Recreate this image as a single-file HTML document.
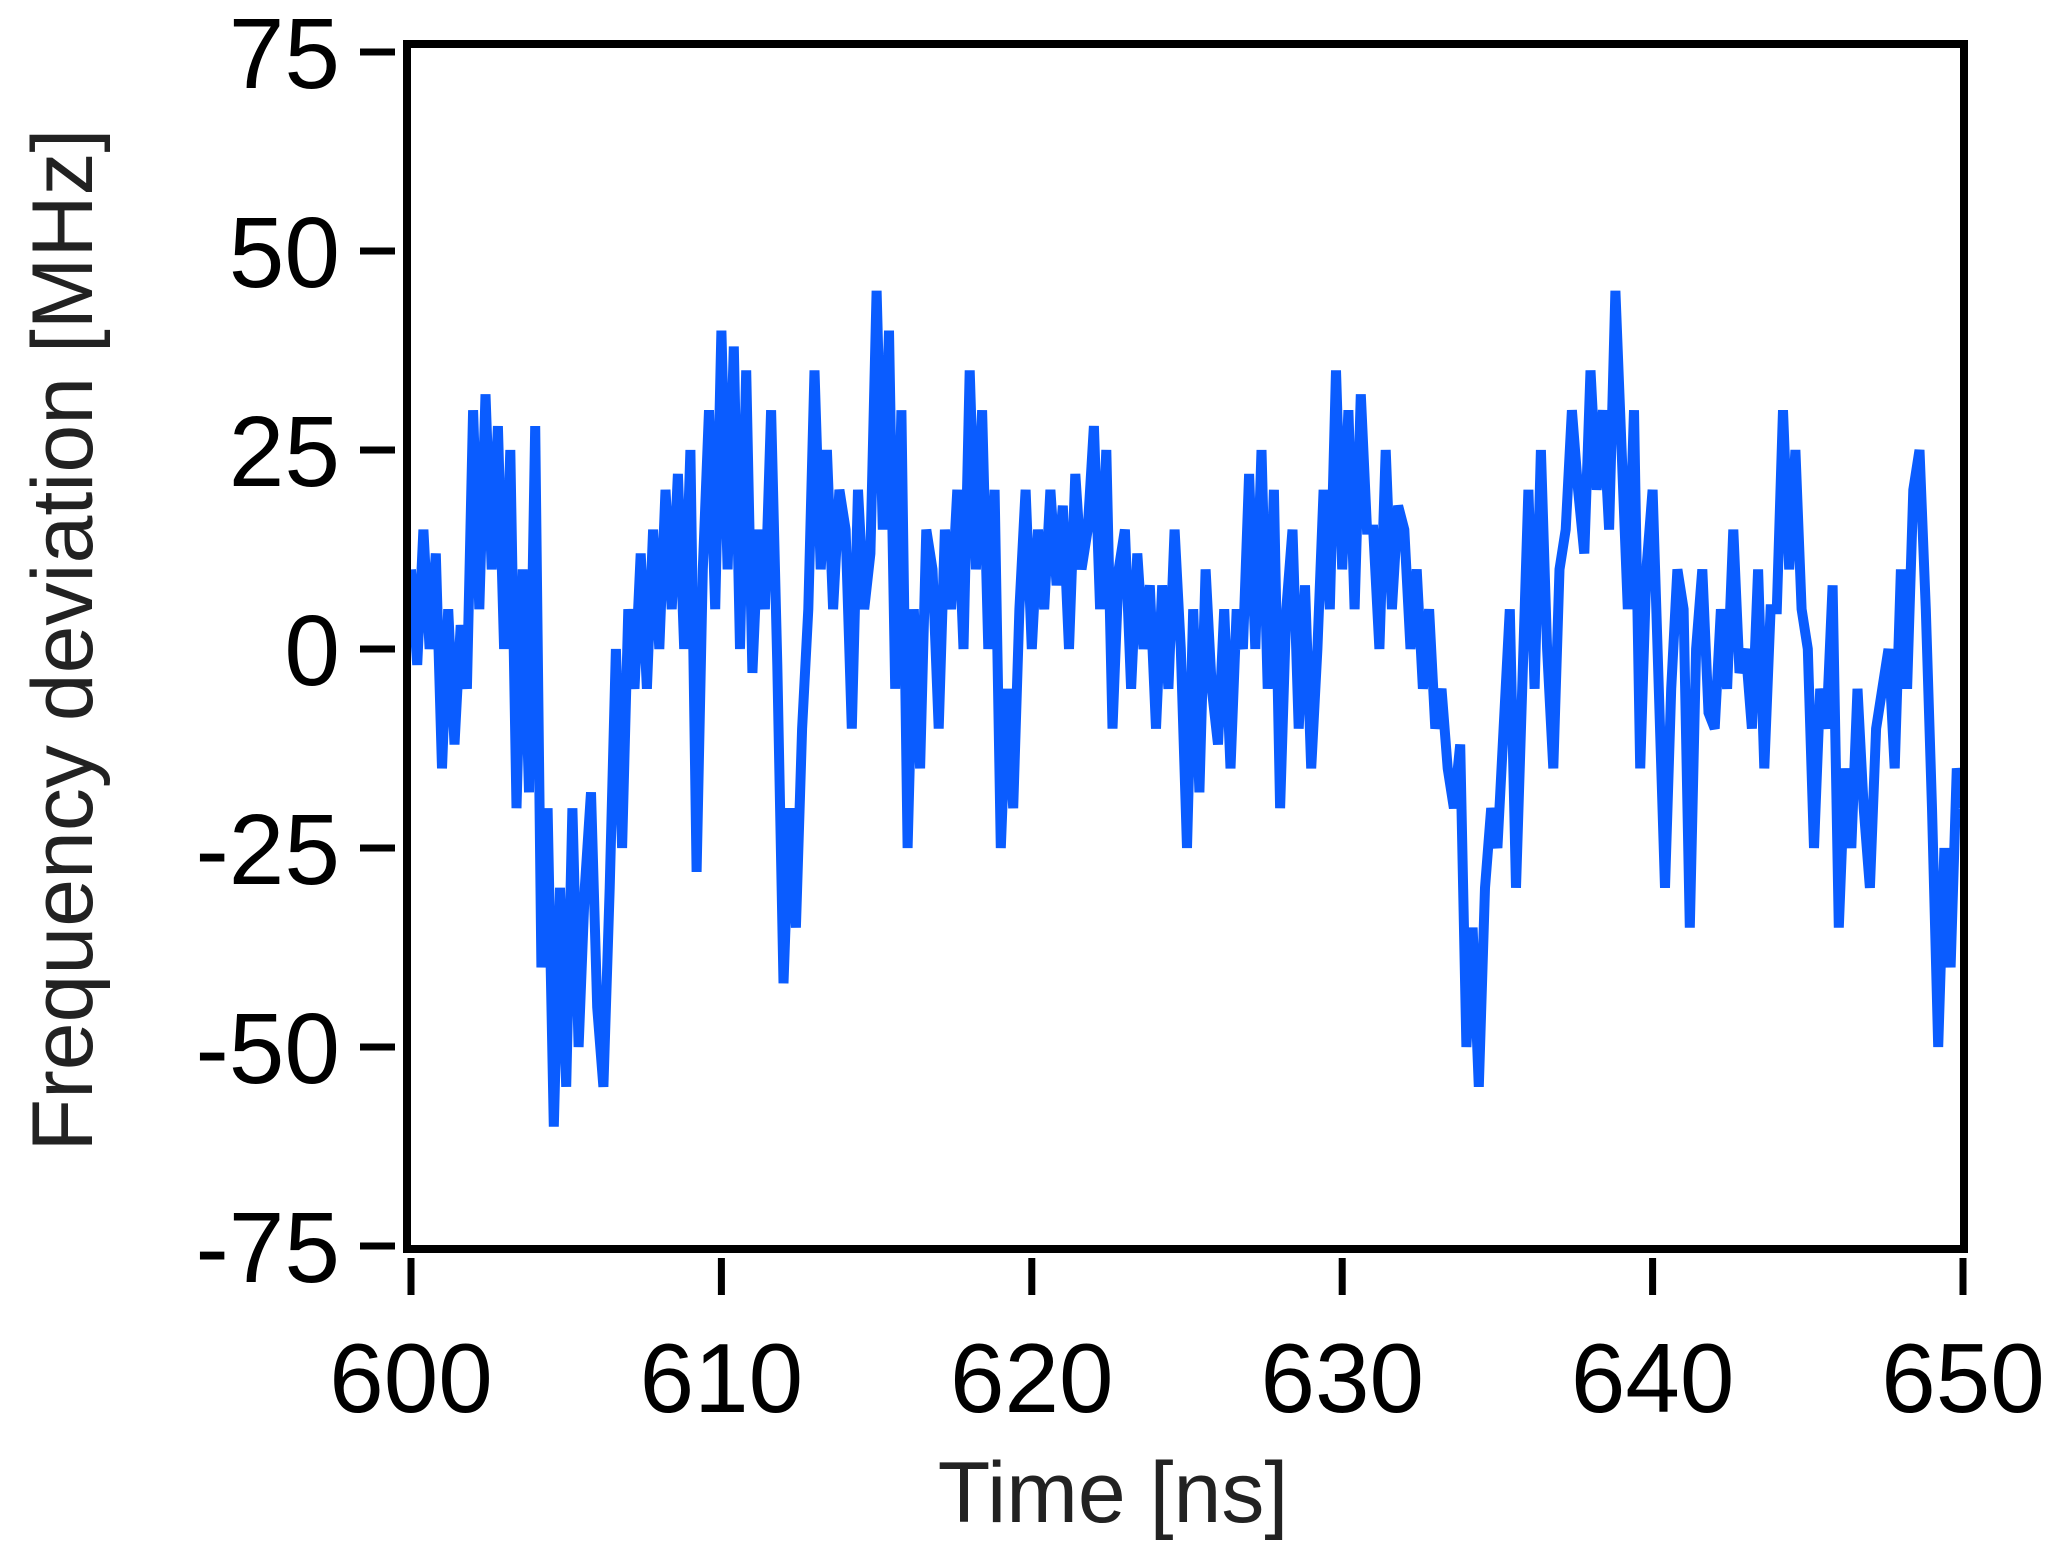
<!DOCTYPE html>
<html><head><meta charset="utf-8"><style>
html,body{margin:0;padding:0;background:#fff;}
svg{display:block;font-family:"Liberation Sans",sans-serif;}
</style></head><body>
<svg id="chart" width="2054" height="1558" viewBox="0 0 2054 1558">
<g id="axes"></g>
<g id="series"></g>
<rect x="407" y="44" width="1557" height="1205" fill="none" stroke="#000" stroke-width="8"/>
<text x="1113" y="1522" font-size="86" text-anchor="middle" fill="#222">Time [ns]</text>
<text transform="translate(92,640) rotate(-90)" font-size="86" text-anchor="middle" fill="#222">Frequency deviation [MHz]</text>
</svg>
<script>
const xTicks = [600, 610, 620, 630, 640, 650];
const yTicks = [75, 50, 25, 0, -25, -50, -75];
const yTickLabels = ["75", "50", "25", "0", "-25", "-50", "-75"];
const tStart = 600;
const tStep = 0.2;
const values = [
10,-2,15,0,12, -15,5,-12,3,-5, 30,5,32,10,28, 0,25,-20,10,-18,
28,-40,-20,-60,-30, -55,-20,-50,-30,-18, -45,-55,-30,0,-25, 5,-5,12,-5,15,
0,20,5,22,0, 25,-28,10,30,5, 40,10,38,0,35, -3,15,5,30,-2,
-42,-20,-35,-10,5, 35,10,25,5,20, 15,-10,20,5,12, 45,15,40,-5,30,
-25,5,-15,15,10, -10,15,5,20,0, 35,10,30,0,20, -25,-5,-20,5,20,
0,15,5,20,8, 18,0,22,10,15, 28,5,25,-10,10, 15,-5,12,0,8,
-10,8,-5,15,0, -25,5,-18,10,-5, -12,5,-15,5,0, 22,0,25,-5,20,
-20,5,15,-10,8, -15,0,20,5,35, 10,30,5,32,15, 15,0,25,5,18,
15,0,10,-5,5, -10,-5,-15,-20,-12, -50,-35,-55,-30,-20, -25,-10,5,-30,-5,
20,-5,25,0,-15, 10,15,30,20,12, 35,20,30,15,45, 25,5,30,-15,10,
20,-5,-30,-5,10, 5,-35,0,10,-8, -10,5,-5,15,-3, 0,-10,10,-15,5,
5,30,10,25,5, 0,-25,-5,-10,8, -35,-15,-25,-5,-20, -30,-10,-5,0,-15,
10,-5,20,25,5, -20,-50,-25,-40,-15, -20
];
const NS="http://www.w3.org/2000/svg";
const X0=411, X1=1963, Y75=52, Y_75=1246;
function xScale(t){return X0+(t-600)/50*(X1-X0);}
function yScale(v){return Y75+(75-v)/150*(Y_75-Y75);}
const axes=document.getElementById('axes');
xTicks.forEach((t,i)=>{
  const l=document.createElementNS(NS,'line');
  l.setAttribute('x1',xScale(t));l.setAttribute('x2',xScale(t));
  l.setAttribute('y1',1258);l.setAttribute('y2',1295);
  l.setAttribute('stroke','#000');l.setAttribute('stroke-width','7');
  
  
  axes.appendChild(l);
  const tx=document.createElementNS(NS,'text');
  tx.setAttribute('x',xScale(t));tx.setAttribute('y',1412);
  tx.setAttribute('font-size','98');tx.setAttribute('text-anchor','middle');
  tx.textContent=String(t);
  
  
  axes.appendChild(tx);
});
yTicks.forEach((v,i)=>{
  const l=document.createElementNS(NS,'line');
  l.setAttribute('x1',360);l.setAttribute('x2',395);
  l.setAttribute('y1',yScale(v));l.setAttribute('y2',yScale(v));
  l.setAttribute('stroke','#000');l.setAttribute('stroke-width','7');
  
  
  axes.appendChild(l);
  const tx=document.createElementNS(NS,'text');
  tx.setAttribute('x',340);tx.setAttribute('y',yScale(v)+36);
  tx.setAttribute('font-size','100');tx.setAttribute('text-anchor','end');
  tx.textContent=yTickLabels[i];
  
  
  axes.appendChild(tx);
});
const pts=values.map((v,i)=>xScale(tStart+i*tStep).toFixed(1)+','+yScale(v).toFixed(1)).join(' ');
const pl=document.createElementNS(NS,'polyline');
pl.setAttribute('points',pts);
pl.setAttribute('fill','none');pl.setAttribute('stroke','#0a5cff');
pl.setAttribute('stroke-width','10');pl.setAttribute('stroke-linejoin','miter');


document.getElementById('series').appendChild(pl);
</script>
</body></html>
